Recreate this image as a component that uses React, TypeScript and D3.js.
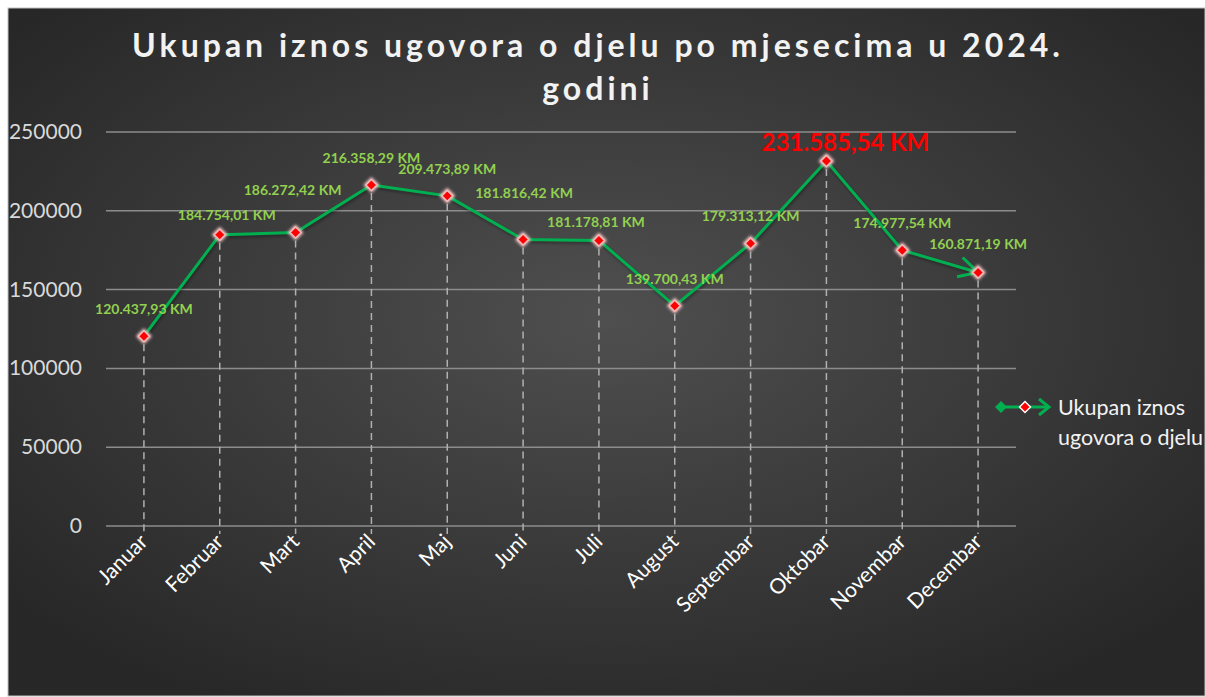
import React from "react";
import * as d3 from "d3";

const months = ["Januar","Februar","Mart","April","Maj","Juni","Juli","August","Septembar","Oktobar","Novembar","Decembar"];
const values = [120437.93,184754.01,186272.42,216358.29,209473.89,181816.42,181178.81,139700.43,179313.12,231585.54,174977.54,160871.19];
const yTicks = [0,50000,100000,150000,200000,250000];
const highlightIndex = 9;
const seriesName = ["Ukupan iznos","ugovora o djelu"];
const titleLines = ["Ukupan iznos ugovora o djelu po mjesecima u 2024.","godini"];
// label layout offsets (px)
const labelDx = [0,7,-3,0,0,1,-3,0,0,19,0,0];
const labelDy = [-27,-20,-42,-27,-27,-46,-18,-27,-27,-18,-27,-28];

const W = 1205, H = 697;
const FONT = "Lato, 'Open Sans', sans-serif";

function fmt(v: number) {
  const [i, d] = v.toFixed(2).split(".");
  const ii = i.replace(/\B(?=(\d{3})+(?!\d))/g, ".");
  return `${ii},${d} KM`;
}

export default function App() {
  const x = d3.scaleBand().domain(months).range([106, 1016]);
  const y = d3.scaleLinear().domain([0, 250000]).range([526, 132]);
  const cx = (m: string) => (x(m) as number) + x.bandwidth() / 2;
  const line = d3.line<number>().x((_, i) => cx(months[i])).y((v) => y(v));
  const diamond = (s: number) => `M0,${-s} L${s},0 L0,${s} L${-s},0 Z`;

  return (
    <svg width={W} height={H} style={{ position: "absolute", left: 0, top: 0, display: "block" }}>
      <defs>
        <radialGradient id="bg" cx="50%" cy="45%" r="65%">
          <stop offset="0%" stopColor="#4f4f4f" />
          <stop offset="100%" stopColor="#272727" />
        </radialGradient>
        <filter id="glow" x="-100%" y="-100%" width="300%" height="300%">
          <feGaussianBlur stdDeviation="1.5" />
        </filter>
        <marker id="arrow" viewBox="-22 -12 24 24" refX="0" refY="0" markerWidth="24" markerHeight="24" markerUnits="userSpaceOnUse" orient="auto">
          <path d="M-19,-10 L0,0 L-19,10" fill="none" stroke="#00b050" strokeWidth="3" />
        </marker>
      </defs>
      <rect x={0} y={0} width={W} height={H} fill="#fff" />
      <rect x={8} y={8} width={W - 8} height={688} fill="url(#bg)" stroke="#bfbfbf" strokeWidth={1} />

      {titleLines.map((t, i) => (
        <text key={i} x={598} y={57 + i * 43} textAnchor="middle" fill="#f2f2f2" fontFamily={FONT}
          fontWeight="bold" fontSize={32} letterSpacing={4}>{t}</text>
      ))}

      {yTicks.map((t) => (
        <g key={t}>
          <line x1={106} x2={1016} y1={y(t)} y2={y(t)} stroke="#8c8c8c" strokeWidth={1.5} />
          <text x={82} y={y(t) + 7} textAnchor="end" fill="#d9d9d9" fontFamily={FONT} fontSize={21}>{t}</text>
        </g>
      ))}

      {months.map((m, i) => (
        <line key={m} x1={cx(m)} x2={cx(m)} y1={y(values[i]) + 8} y2={y(0) + 8} stroke="#b0b0b0"
          strokeWidth={1.5} strokeDasharray="7,5" />
      ))}

      <path d={line(values) || ""} fill="none" stroke="#000" strokeOpacity={0.35} strokeWidth={3} transform="translate(1,2)" filter="url(#glow)" />
      <path d={line(values) || ""} fill="none" stroke="#00b050" strokeWidth={3} strokeLinejoin="round" markerEnd="url(#arrow)" />

      {months.map((m, i) => (
        <g key={m} transform={`translate(${cx(m)},${y(values[i])})`}>
          <path d={diamond(8)} fill="#f7c9c9" filter="url(#glow)" />
          <path d={diamond(5.5)} fill="#ff0000" stroke="#f4b6b6" strokeWidth={1.5} />
        </g>
      ))}

      {months.map((m, i) => (
        <text key={m} x={cx(m) + labelDx[i]} y={y(values[i]) + labelDy[i] + (i === highlightIndex ? 8 : 5)}
          textAnchor="middle" fontFamily={FONT} fontWeight="bold"
          fontSize={i === highlightIndex ? 24 : 14}
          fill={i === highlightIndex ? "#ff0000" : "#92d050"}>{fmt(values[i])}</text>
      ))}

      {months.map((m) => (
        <text key={m} transform={`translate(${cx(m) + 5},${y(0) + 17}) rotate(-45)`} textAnchor="end"
          fill="#ffffff" fontFamily={FONT} fontSize={21}>{m}</text>
      ))}

      <g>
        <line x1={1000} x2={1048} y1={407} y2={407} stroke="#00b050" strokeWidth={3} />
        <path d={diamond(6)} transform="translate(1001,407)" fill="#00b050" />
        <path d="M1039,399 L1049,407 L1039,415" fill="none" stroke="#00b050" strokeWidth={3} />
        <path d={diamond(6.5)} transform="translate(1025,407)" fill="#fff" />
        <path d={diamond(4.5)} transform="translate(1025,407)" fill="#ff0000" />
        {seriesName.map((s, i) => (
          <text key={i} x={1058} y={415 + i * 30} fill="#f2f2f2" fontFamily={FONT} fontSize={21.5}>{s}</text>
        ))}
      </g>
    </svg>
  );
}
